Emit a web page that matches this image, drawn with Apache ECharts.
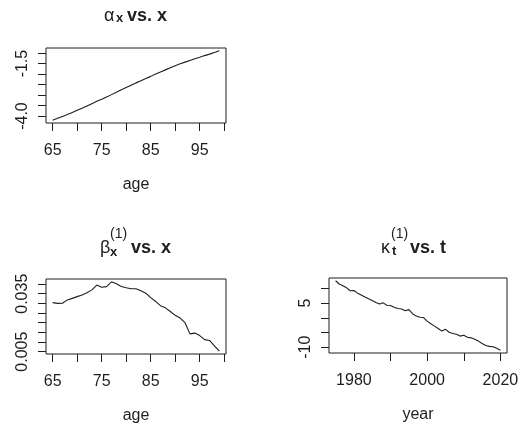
<!DOCTYPE html>
<html>
<head>
<meta charset="utf-8">
<script src="https://cdn.jsdelivr.net/npm/echarts@6/dist/echarts.min.js"></script>
<style>
html,body{margin:0;padding:0;background:#fff;}
#c{width:528px;height:428px;}
</style>
</head>
<body>
<div id="c"></div>
<script>
// ---- data ----
const ages = [65,66,67,68,69,70,71,72,73,74,75,76,77,78,79,80,81,82,83,84,85,86,87,88,89,90,91,92,93,94,95,96,97,98,99];
const alphaX = [-4.20,-4.11,-4.02,-3.93,-3.83,-3.73,-3.63,-3.52,-3.41,-3.30,-3.20,-3.09,-2.98,-2.87,-2.75,-2.64,-2.53,-2.42,-2.32,-2.21,-2.11,-2.00,-1.90,-1.80,-1.70,-1.60,-1.51,-1.43,-1.35,-1.27,-1.20,-1.12,-1.05,-0.97,-0.89];
const betaX = [0.0304,0.0300,0.0301,0.0318,0.0326,0.0335,0.0344,0.0355,0.0370,0.0395,0.0384,0.0387,0.0412,0.0402,0.0388,0.0381,0.0376,0.0376,0.0366,0.0353,0.0330,0.0310,0.0288,0.0277,0.0258,0.0238,0.0224,0.0200,0.0142,0.0146,0.0133,0.0112,0.0108,0.0080,0.0052];
const years = [1975,1976,1977,1978,1979,1980,1981,1982,1983,1984,1985,1986,1987,1988,1989,1990,1991,1992,1993,1994,1995,1996,1997,1998,1999,2000,2001,2002,2003,2004,2005,2006,2007,2008,2009,2010,2011,2012,2013,2014,2015,2016,2017,2018,2019,2020];
const kappaT = [12.6,11.5,10.9,10.2,9.2,9.3,8.4,7.8,7.1,6.5,5.9,5.2,4.7,5.1,4.3,4.2,3.6,3.2,3.0,2.4,2.8,1.4,0.6,0.2,0.1,-1.1,-2.0,-2.8,-3.6,-4.5,-3.9,-4.9,-5.3,-5.6,-6.2,-5.9,-6.6,-6.8,-7.3,-7.9,-8.7,-9.4,-9.7,-9.8,-10.3,-11.0];

// ---- ticks / labels ----
const ageTicks = [65,70,75,80,85,90,95,100];
const ageLabels = [65,75,85,95];
const alphaTicks = [-4.0,-3.5,-3.0,-2.5,-2.0,-1.5,-1.0];
const alphaLabels = [-4.0,-1.5];
const betaTicks = [0.005,0.010,0.015,0.020,0.025,0.030,0.035,0.040];
const betaLabels = [0.005,0.035];
const yearTicks = [1980,1990,2000,2010,2020];
const yearLabels = [1980,2000,2020];
const kappaTicks = [-10,-5,0,5,10];
const kappaLabels = [-10,5];

const FONT = '"Liberation Sans", Arial, Helvetica, sans-serif';
const INK = '#1e1e1e';

function padRange(arr){
  const mn = Math.min(...arr), mx = Math.max(...arr), r = mx - mn;
  return [mn - 0.04*r, mx + 0.04*r];
}
function pairs(xs, ys){ return xs.map((x,i)=>[x, ys[i]]); }

function xAxis(idx, xs, ticks, labels, name){
  const r = padRange(xs);
  return {
    type:'value', gridIndex:idx, min:r[0], max:r[1], position:'bottom',
    name:name, nameLocation:'middle', nameGap:54,
    nameTextStyle:{color:INK, fontSize:16, fontFamily:FONT},
    axisLine:{show:false, onZero:false},
    axisTick:{show:true, inside:false, length:8, customValues:ticks, lineStyle:{color:INK, width:1}},
    axisLabel:{show:true, customValues:labels, color:INK, fontSize:16, fontFamily:FONT, margin:20,
      formatter: v => String(v)},
    splitLine:{show:false}
  };
}
function yAxis(idx, ys, ticks, labels, fmt){
  const r = padRange(ys);
  return {
    type:'value', gridIndex:idx, min:r[0], max:r[1], position:'left',
    axisLine:{show:false, onZero:false},
    axisTick:{show:true, inside:false, length:8, customValues:ticks, lineStyle:{color:INK, width:1}},
    axisLabel:{show:true, customValues:labels, color:INK, fontSize:16, fontFamily:FONT,
      rotate:90, align:'center', verticalAlign:'bottom', margin:15, formatter:fmt},
    splitLine:{show:false}
  };
}
function lineSeries(idx, xs, ys){
  return {type:'line', xAxisIndex:idx, yAxisIndex:idx, data:pairs(xs, ys),
    showSymbol:false, symbol:'none', animation:false,
    lineStyle:{color:INK, width:1.1}};
}

function titleGroup(parts){
  return parts.map(p => ({
    type:'text', x:p.x, y:p.y,
    style:{text:p.t, fill:INK, font:(p.w||'bold')+' '+p.s+'px '+FONT}
  }));
}

const gridBox = {show:true, borderColor:INK, borderWidth:1, backgroundColor:'transparent'};

const option = {
  animation:false,
  grid:[
    Object.assign({left:46, top:48, width:180, height:75}, gridBox),
    Object.assign({left:46, top:279, width:180, height:75}, gridBox),
    Object.assign({left:329, top:278, width:178, height:75}, gridBox)
  ],
  xAxis:[
    xAxis(0, ages, ageTicks, ageLabels, 'age'),
    xAxis(1, ages, ageTicks, ageLabels, 'age'),
    xAxis(2, years, yearTicks, yearLabels, 'year')
  ],
  yAxis:[
    yAxis(0, alphaX, alphaTicks, alphaLabels, v => v.toFixed(1)),
    yAxis(1, betaX, betaTicks, betaLabels, v => v.toFixed(3)),
    yAxis(2, kappaT, kappaTicks, kappaLabels, v => String(Math.round(v)))
  ],
  series:[
    lineSeries(0, ages, alphaX),
    lineSeries(1, ages, betaX),
    lineSeries(2, years, kappaT)
  ],
  graphic: [].concat(
    titleGroup([
      {t:'α', x:104, y:7, s:18, w:'normal'},
      {t:'x', x:116, y:12, s:13},
      {t:'vs. x', x:127, y:7, s:18}
    ]),
    titleGroup([
      {t:'β', x:100, y:239, s:18, w:'normal'},
      {t:'(1)', x:110, y:227, s:14, w:'normal'},
      {t:'x', x:110, y:246, s:13},
      {t:'vs. x', x:131, y:239, s:18}
    ]),
    titleGroup([
      {t:'κ', x:381, y:239, s:18, w:'normal'},
      {t:'(1)', x:391, y:227, s:14, w:'normal'},
      {t:'t', x:392, y:245, s:13},
      {t:'vs. t', x:410, y:239, s:18}
    ])
  )
};

const chart = echarts.init(document.getElementById('c'), null, {renderer:'canvas'});
chart.setOption(option);
</script>
</body>
</html>
